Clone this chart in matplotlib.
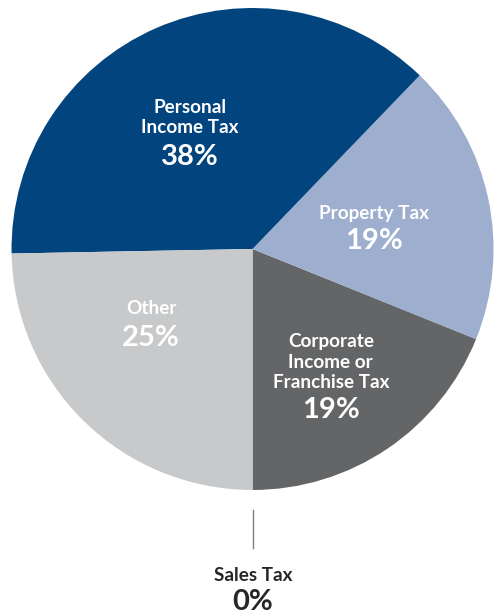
import matplotlib.pyplot as plt

# slice data (drawn counter-clockwise from the bottom)
categorias = ['Corporate\nIncome or\nFranchise Tax', 'Property Tax',
              'Personal\nIncome Tax', 'Other', 'Sales Tax']
valores = [18.9, 18.9, 37.5, 24.7, 0.0]
rotulos_pct = ['19%', '19%', '38%', '25%', '0%']
cores = ['#646567', '#9eaecf', '#02447d', '#c8c9cb', '#ffffff']

# label placement (data coords, pie radius = 1): (name, percent)
pos_nome = [(0.325, -0.469), (0.504, 0.149), (-0.259, 0.544), (-0.421, -0.249), (0.002, -1.353)]
pos_pct = [(0.325, -0.668), (0.504, 0.033), (-0.259, 0.382), (-0.421, -0.369), (0.002, -1.465)]
cor_texto = ['white', 'white', 'white', 'white', '#262626']

plt.rcParams['font.family'] = ['Lato', 'DejaVu Sans']

fig = plt.figure(figsize=(4.95, 6.14), dpi=100)
ax = fig.add_axes([0.0232, 0.202, 0.974, 0.785])
ax.pie(valores, colors=cores, startangle=270, counterclock=True,
       radius=1.0, wedgeprops=dict(linewidth=0))
ax.set_xlim(-1, 1)
ax.set_ylim(-1, 1)
ax.set_aspect('equal')
ax.axis('off')

for i in range(len(categorias)):
    x, y = pos_nome[i]
    ax.text(x, y, categorias[i], ha='center', va='center', fontsize=13.6,
            fontweight='bold', color=cor_texto[i], linespacing=1.22, clip_on=False)
    x, y = pos_pct[i]
    ax.text(x, y, rotulos_pct[i], ha='center', va='center', fontsize=21,
            fontweight='bold', color=cor_texto[i], clip_on=False)

# leader line for the zero slice
ax.plot([0.002, 0.002], [-1.083, -1.241], color='#7f7f7f', linewidth=1, clip_on=False)

fig.savefig('out.png', dpi=100)
